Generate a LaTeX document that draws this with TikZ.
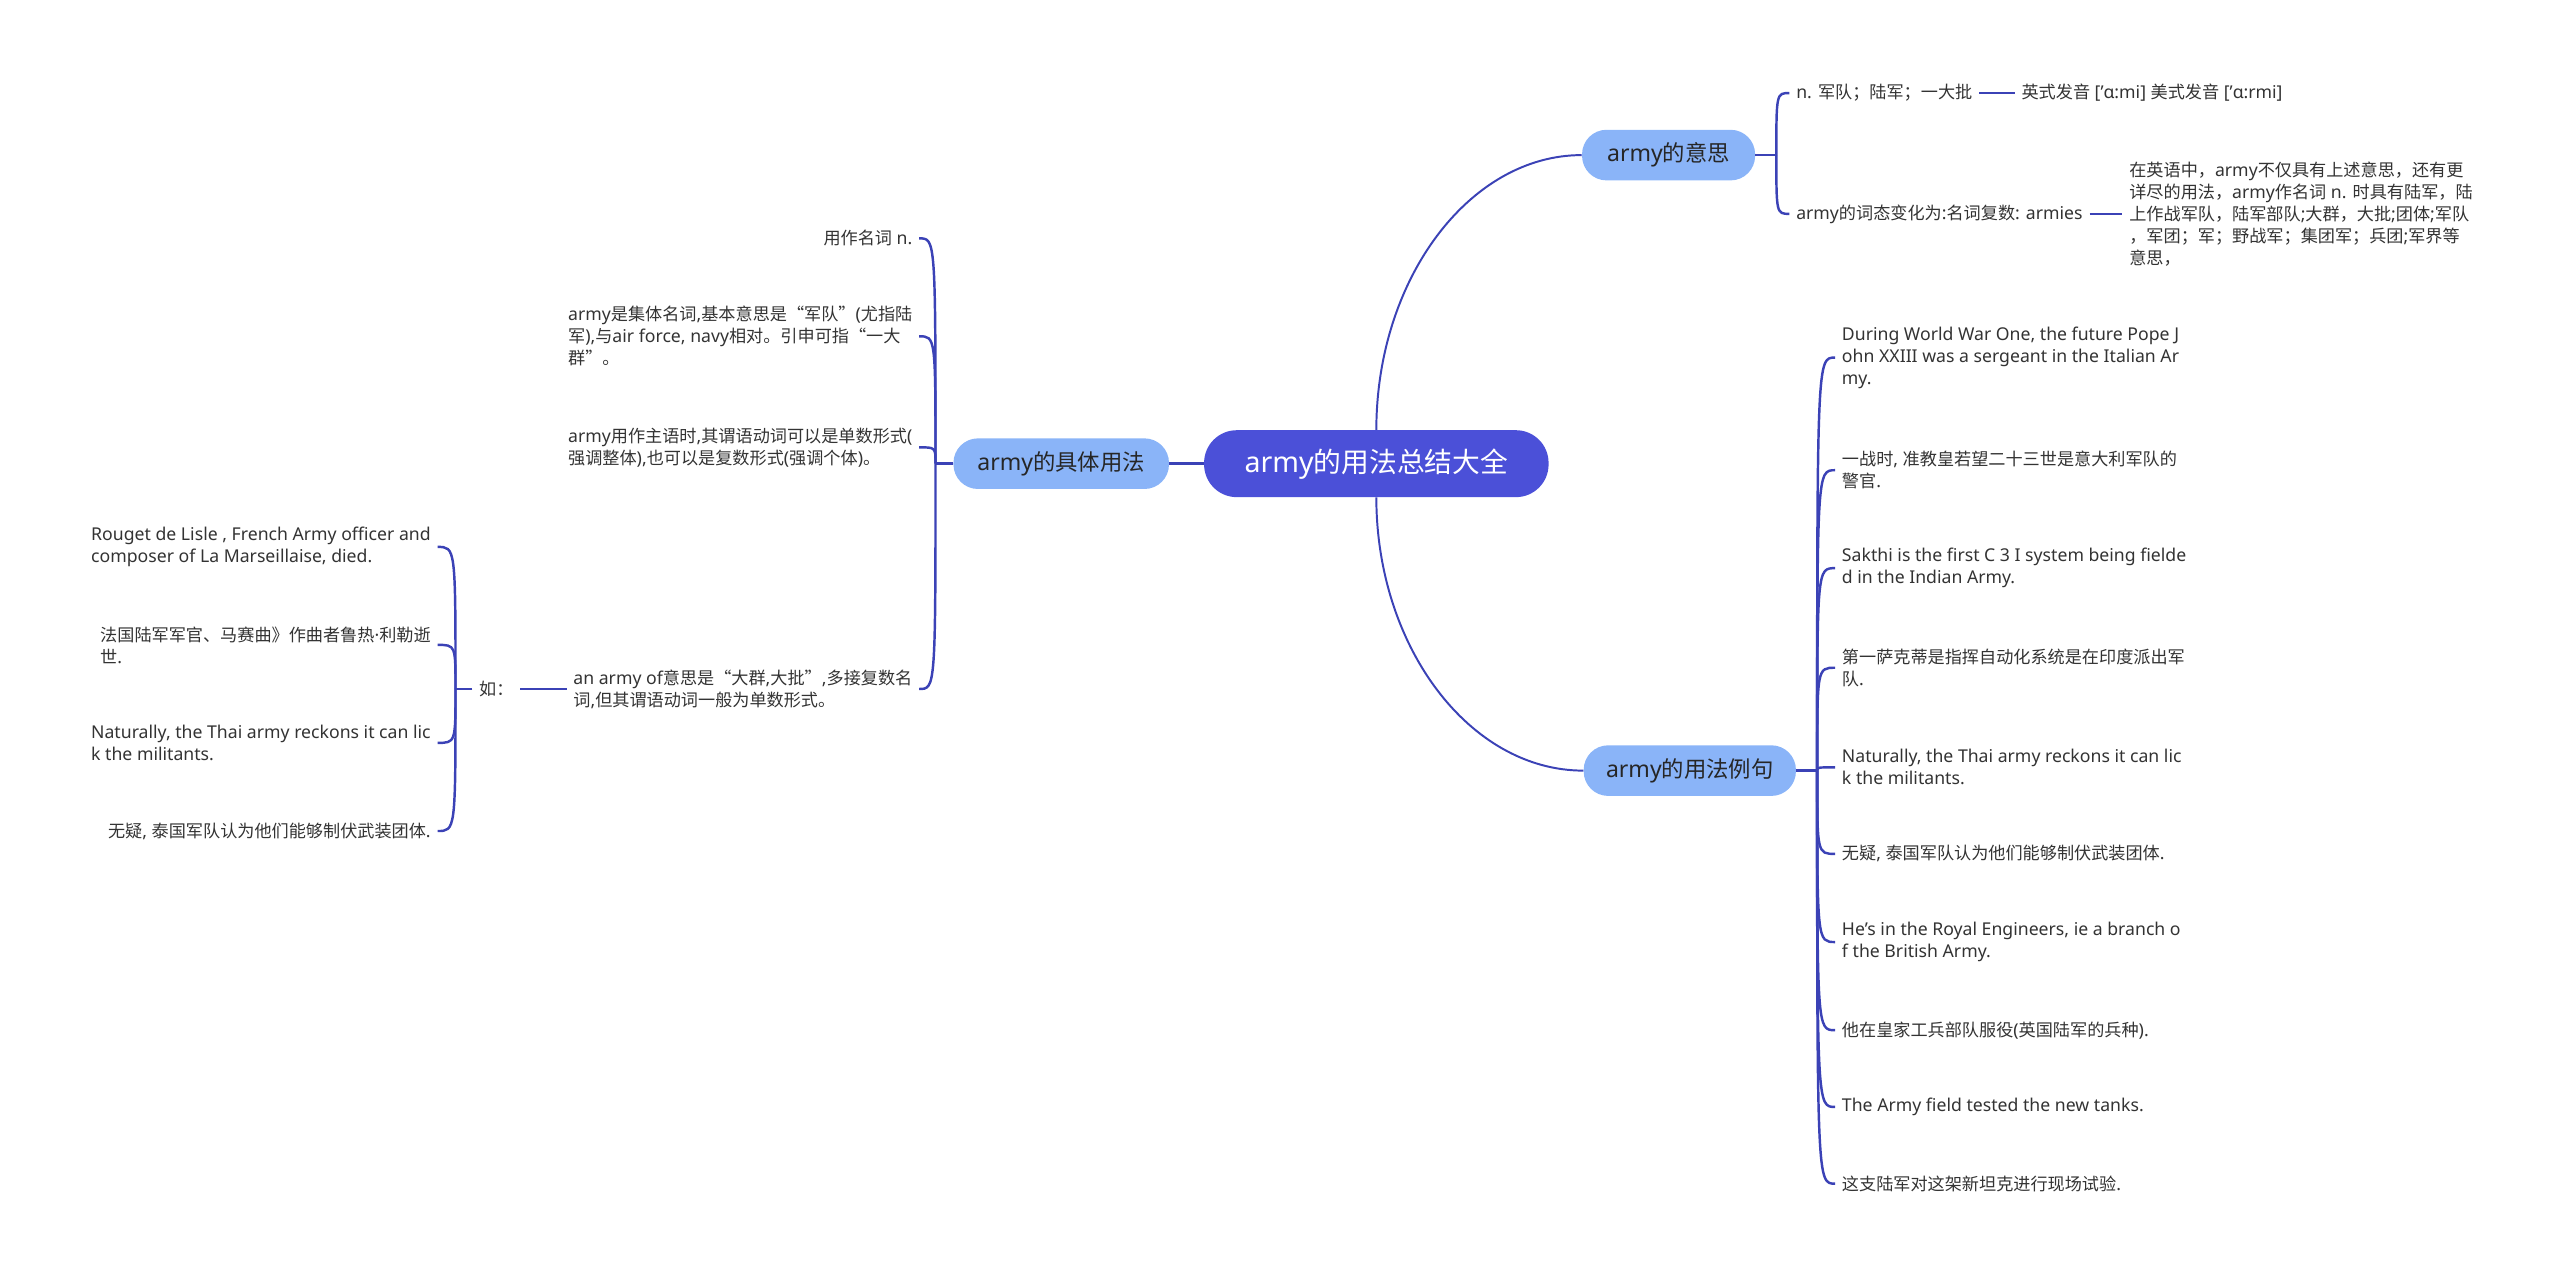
\documentclass[tikz,border=0pt]{standalone}
\usepackage{fontspec}
\setmainfont{Noto Sans}[Scale=1.03]
\newfontfamily\cjkfont{Noto Sans CJK SC}
% Chinese characters switch to the CJK family
\XeTeXinterchartokenstate=1
\newXeTeXintercharclass\cjkClass
\makeatletter
\def\setcjkrange#1#2{\count@=#1\relax
  \loop\XeTeXcharclass\count@=\cjkClass\ifnum\count@<#2\advance\count@ by 1\repeat}
\makeatother
\setcjkrange{"3000}{"303F}
\setcjkrange{"4E00}{"9FFF}
\setcjkrange{"FF00}{"FFEF}
\setcjkrange{"201C}{"201D}
\XeTeXinterchartoks 0 \cjkClass = {\cjkfont}
\XeTeXinterchartoks 4095 \cjkClass = {\cjkfont}
\XeTeXinterchartoks \cjkClass 0 = {\rmfamily}
\XeTeXinterchartoks \cjkClass 4095 = {\rmfamily}
\usetikzlibrary{positioning}
\definecolor{rootBlue}{HTML}{4B50D8}
\definecolor{topicBlue}{HTML}{8AB4F8}
\definecolor{linkBlue}{HTML}{3B42B6}
\definecolor{leafGray}{HTML}{333333}
\tikzset{
  rootbox/.style={fill=rootBlue, text=white, rounded corners=20pt, minimum width=211pt, minimum height=41pt, font=\fontsize{17}{20}\selectfont},
  topicbox/.style={fill=topicBlue, text=black!85, rounded corners=15pt, minimum height=31pt, font=\fontsize{13.7}{16}\selectfont},
  leaf/.style={text=leafGray, inner xsep=4pt, inner ysep=2pt, font=\fontsize{10.5}{13.5}\selectfont},
  link/.style={draw=linkBlue, line width=1.5pt},
  mainlink/.style={draw=linkBlue, line width=1.2pt},
}
\begin{document}
\begin{tikzpicture}[x=1pt, y=-1pt]
  \useasboundingbox (0,0) rectangle (1568,783);
  % centre and main topics
  \node[rootbox] (root) at (843,284) {army的用法总结大全};
  \node[topicbox, minimum width=106pt] (mean) at (1022,95) {army的意思};
  \node[topicbox, minimum width=132pt] (usage) at (650,284) {army的具体用法};
  \node[topicbox, minimum width=130pt] (examples) at (1035,472) {army的用法例句};
  \draw[mainlink] (root.north) .. controls (843,171) and (900,95) .. (mean.west);
  \draw[mainlink] (root.south) .. controls (843,396) and (900,472) .. (examples.west);
  \draw[link] (root.west) -- (usage.east);

  % meaning branch
  \coordinate (meanJ) at (1088,95);
  \node[leaf, anchor=west] (noun) at (1096,57) {n. 军队；陆军；一大批};
  \node[leaf, anchor=west] (sound) at (1234,57) {英式发音 ['ɑ:mi] 美式发音 ['ɑ:rmi]};
  \node[leaf, anchor=west] (plural) at (1096,131) {army的词态变化为:名词复数: armies};
  \node[leaf, anchor=west, align=left] (detail) at (1300,131) {在英语中，army不仅具有上述意思，还有更\\详尽的用法，army作名词 n. 时具有陆军，陆\\上作战军队，陆军部队;大群，大批;团体;军队\\，军团；军；野战军；集团军；兵团;军界等\\意思，};
  \draw[link] (mean.east) -- (meanJ);
  \foreach \n in {noun, plural}
    \draw[link] (meanJ) .. controls (meanJ |- \n.west) and (meanJ |- \n.west) .. (\n.west);
  \draw[link] (noun.east) -- (sound.west);
  \draw[link] (plural.east) -- (detail.west);

  % example sentences
  \coordinate (exJ) at (1113,472);
  \node[leaf, anchor=west, align=left] (ex1) at (1124,219) {During World War One, the future Pope J\\ohn XXIII was a sergeant in the Italian Ar\\my.};
  \node[leaf, anchor=west, align=left] (ex2) at (1124,288) {一战时, 准教皇若望二十三世是意大利军队的\\警官.};
  \node[leaf, anchor=west, align=left] (ex3) at (1124,348) {Sakthi is the first C 3 I system being fielde\\d in the Indian Army.};
  \node[leaf, anchor=west, align=left] (ex4) at (1124,409) {第一萨克蒂是指挥自动化系统是在印度派出军\\队.};
  \node[leaf, anchor=west, align=left] (ex5) at (1124,470) {Naturally, the Thai army reckons it can lic\\k the militants.};
  \node[leaf, anchor=west] (ex6) at (1124,523) {无疑, 泰国军队认为他们能够制伏武装团体.};
  \node[leaf, anchor=west, align=left] (ex7) at (1124,577) {He's in the Royal Engineers, ie a branch o\\f the British Army.};
  \node[leaf, anchor=west] (ex8) at (1124,631) {他在皇家工兵部队服役(英国陆军的兵种).};
  \node[leaf, anchor=west] (ex9) at (1124,678) {The Army field tested the new tanks.};
  \node[leaf, anchor=west] (ex10) at (1124,725) {这支陆军对这架新坦克进行现场试验.};
  \draw[link] (examples.east) -- (exJ);
  \foreach \i in {1,...,10}
    \draw[link] (exJ) .. controls (exJ |- ex\i.west) and (exJ |- ex\i.west) .. (ex\i.west);

  % usage branch
  \coordinate (useJ) at (573,284);
  \node[leaf, anchor=east] (nounUse) at (563,146) {用作名词 n.};
  \node[leaf, anchor=east, align=left] (collective) at (563,206) {army是集体名词,基本意思是“军队”(尤指陆\\军),与air force, navy相对。引申可指“一大\\群”。};
  \node[leaf, anchor=east, align=left] (subject) at (563,274) {army用作主语时,其谓语动词可以是单数形式(\\强调整体),也可以是复数形式(强调个体)。};
  \node[leaf, anchor=east, align=left] (armyOf) at (563,422) {an army of意思是“大群,大批”,多接复数名\\词,但其谓语动词一般为单数形式。};
  \draw[link] (usage.west) -- (useJ);
  \foreach \n in {nounUse, collective, subject, armyOf}
    \draw[link] (useJ) .. controls (useJ |- \n.east) and (useJ |- \n.east) .. (\n.east);

  % examples under an army of
  \node[leaf] (ru) at (304,422) {如：};
  \coordinate (ruJ) at (279,422);
  \node[leaf, anchor=east, align=left] (rouget) at (268,335) {Rouget de Lisle , French Army officer and\\composer of La Marseillaise, died.};
  \node[leaf, anchor=east, align=left] (faguo) at (268,395) {法国陆军军官、马赛曲》作曲者鲁热·利勒逝\\世.};
  \node[leaf, anchor=east, align=left] (thai) at (268,455) {Naturally, the Thai army reckons it can lic\\k the militants.};
  \node[leaf, anchor=east] (wuyi) at (268,509) {无疑, 泰国军队认为他们能够制伏武装团体.};
  \draw[link] (ru.east) -- (armyOf.west);
  \draw[link] (ru.west) -- (ruJ);
  \foreach \n in {rouget, faguo, thai, wuyi}
    \draw[link] (ruJ) .. controls (ruJ |- \n.east) and (ruJ |- \n.east) .. (\n.east);
\end{tikzpicture}
\end{document}
